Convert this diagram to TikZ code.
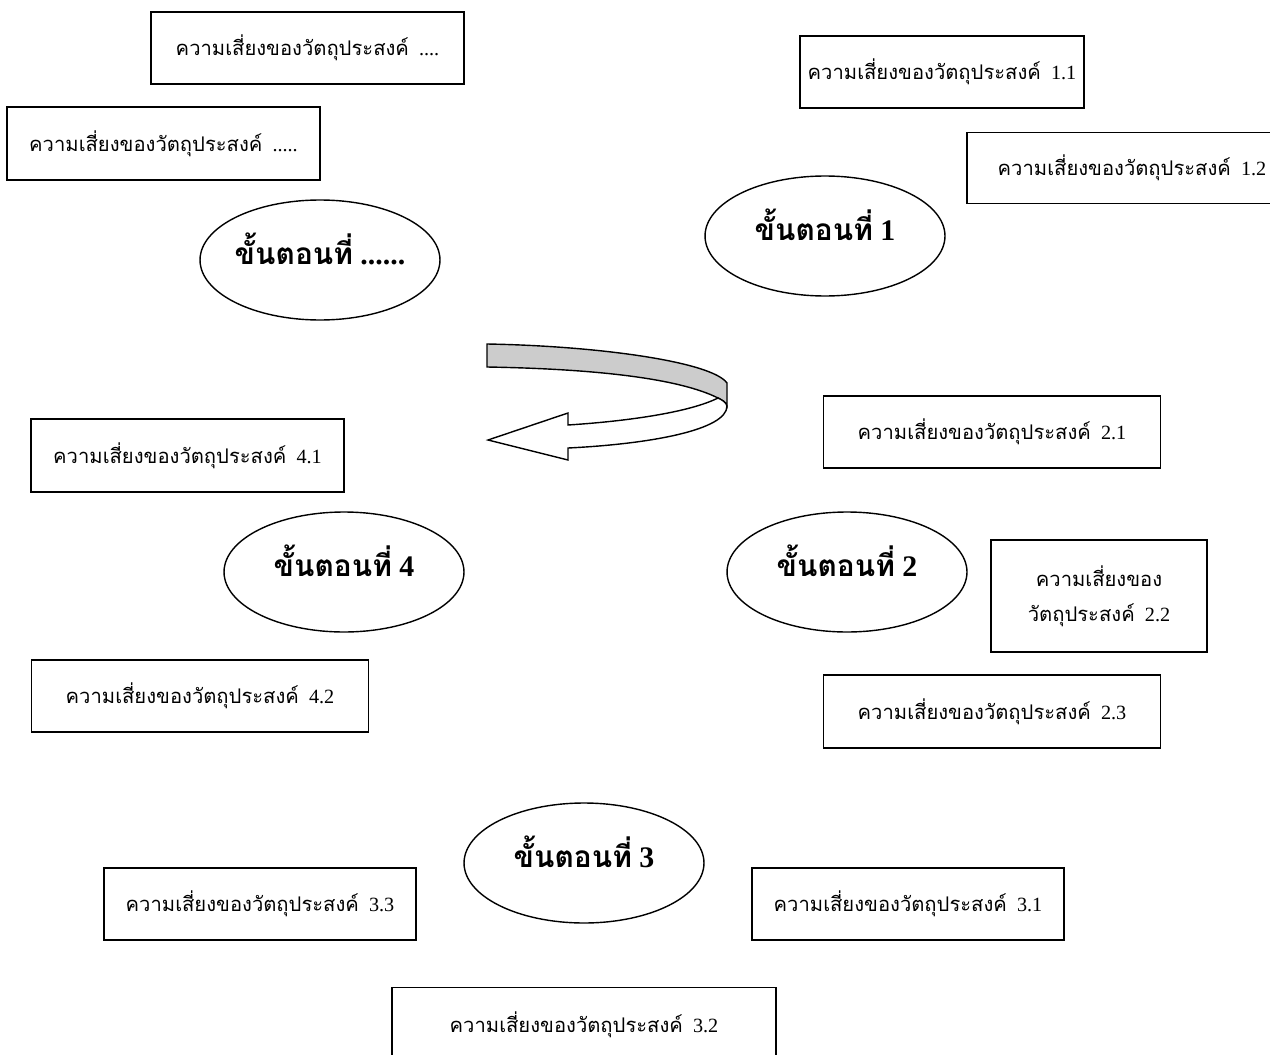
\documentclass[tikz,border=0pt]{standalone}
\usepackage{fontspec}
\setmainfont{Liberation Serif}
\newfontfamily\thai[Script=Thai]{Loma}
\usetikzlibrary{shapes.geometric}

\newcommand{\risk}[1]{{\thai ความเสี่ยงของวัตถุประสงค์}\hspace{0.5em}#1}
\newcommand{\stepno}[1]{{\thai ขั้นตอนที่}~#1}

\begin{document}
\begin{tikzpicture}[x=0.02cm, y=-0.02cm, line width=0.8pt,
		riskbox/.style={draw, rectangle, inner sep=0pt, font=\fontsize{11.5}{15}\selectfont},
		stepnode/.style={draw, ellipse, inner ysep=0pt, inner xsep=-10pt, minimum width=4.8cm, minimum height=2.4cm, text height=13pt, text depth=8pt, font=\bfseries\fontsize{17}{20}\selectfont}]
			\useasboundingbox (0,0) rectangle (1270,1054);
			\clip (0,0) rectangle (1270,1054);
			\node[riskbox, minimum width=6.26cm, minimum height=1.44cm] (riskdota) at (307.5,48) {\risk{....}};
			\node[riskbox, minimum width=6.26cm, minimum height=1.46cm] (riskdotb) at (163.5,143.5) {\risk{.....}};
			\node[stepnode] (stepdot) at (320,260) {\stepno{......}};
			\node[riskbox, minimum width=5.68cm, minimum height=1.44cm] (risk11) at (942,72) {\risk{1.1}};
			\node[riskbox, minimum width=6.60cm, minimum height=1.42cm] (risk12) at (1132,168) {\risk{1.2}};
			\node[stepnode] (stepone) at (825,236) {\stepno{1}};
			\node[riskbox, minimum width=6.74cm, minimum height=1.44cm] (risk21) at (992,432) {\risk{2.1}};
			\node[riskbox, minimum width=4.32cm, minimum height=2.24cm, align=center] (risk22) at (1099,596) {{\thai ความเสี่ยงของ}\\[5pt]{\thai วัตถุประสงค์}\hspace{0.5em}2.2};
			\node[stepnode] (steptwo) at (847,572) {\stepno{2}};
			\node[riskbox, minimum width=6.74cm, minimum height=1.46cm] (risk23) at (992,711.5) {\risk{2.3}};
			\node[riskbox, minimum width=6.26cm, minimum height=1.46cm] (risk41) at (187.5,455.5) {\risk{4.1}};
			\node[stepnode] (stepfour) at (344,572) {\stepno{4}};
			\node[riskbox, minimum width=6.74cm, minimum height=1.44cm] (risk42) at (200,696) {\risk{4.2}};
			\node[stepnode] (stepthree) at (584,863) {\stepno{3}};
			\node[riskbox, minimum width=6.24cm, minimum height=1.44cm] (risk33) at (260,904) {\risk{3.3}};
			\node[riskbox, minimum width=6.24cm, minimum height=1.44cm] (risk31) at (908,904) {\risk{3.1}};
			\node[riskbox, minimum width=7.68cm, minimum height=1.50cm] (risk32) at (584,1025) {\risk{3.2}};
			\draw[fill=black!20] (487,344) .. controls (600,346) and (712,362) .. (727,383)
				-- (727,406) .. controls (726,402) and (722,400) .. (718,398)
				.. controls (680,379) and (600,369) .. (487,367) -- cycle;
			\draw[fill=white] (718,398) .. controls (690,412) and (630,421) .. (568,425)
				-- (568,413) -- (488,440) -- (568,460) -- (568,448)
				.. controls (650,444) and (727,430) .. (727,406)
				.. controls (726,402) and (722,400) .. (718,398) -- cycle;
		\end{tikzpicture}
\end{document}
